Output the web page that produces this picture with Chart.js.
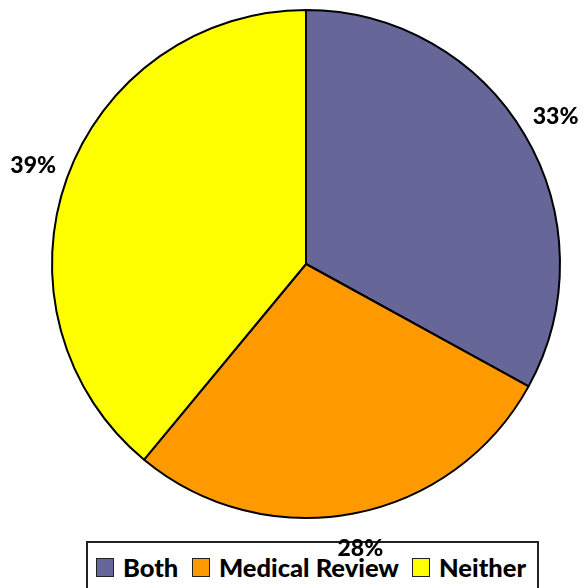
<!DOCTYPE html>
<html>
<head>
<meta charset="utf-8">
<script src="https://cdn.jsdelivr.net/npm/chart.js@4"></script>
<style>
  html, body { margin: 0; padding: 0; background: #ffffff; }
  #wrap { position: relative; width: 585px; height: 588px; overflow: hidden; }
  #legend {
    position: absolute; left: 86px; top: 541px; width: 453px; height: 60px;
    border: 2px solid #222; background: #fff; z-index: 0; box-sizing: border-box;
    font-family: Lato, "Open Sans", sans-serif; font-weight: 900; font-size: 25.5px; color: #000;
  }
  .item { position: absolute; top: 11px; height: 26px; display: flex; align-items: center; white-space: nowrap; }
  .box { width: 16px; height: 17px; border: 1.5px solid #222; margin-right: 9px; flex: none; }
  canvas { position: absolute; left: 0; top: 0; z-index: 1; }
</style>
</head>
<body>
<div id="wrap">
  <div id="legend"></div>
  <canvas id="c" width="585" height="588"></canvas>
</div>
<script>
const categories = ["Both", "Medical Review", "Neither"];
const values = [33, 28, 39];
const colors = ["#666699", "#FF9900", "#FFFF00"];
const legendLefts = [8, 104, 324];

// HTML legend built from the arrays
const leg = document.getElementById('legend');
categories.forEach((c, i) => {
  const it = document.createElement('div');
  it.className = 'item';
  it.style.left = legendLefts[i] + 'px';
  const b = document.createElement('span');
  b.className = 'box';
  b.style.background = colors[i];
  const t = document.createElement('span');
  t.textContent = c;
  it.appendChild(b); it.appendChild(t);
  leg.appendChild(it);
});

const outsideLabels = {
  id: 'outsideLabels',
  afterDatasetsDraw(chart) {
    const ctx = chart.ctx;
    const meta = chart.getDatasetMeta(0);
    const total = values.reduce((a, b) => a + b, 0);
    ctx.save();
    ctx.font = '900 23px Lato, "Open Sans", sans-serif';
    ctx.fillStyle = '#000';
    ctx.textAlign = 'center';
    ctx.textBaseline = 'middle';
    meta.data.forEach((arc, i) => {
      const p = arc.getProps(['x', 'y', 'startAngle', 'endAngle', 'outerRadius'], true);
      const mid = (p.startAngle + p.endAngle) / 2;
      const r = p.outerRadius + 36;
      const x = p.x + Math.cos(mid) * r;
      const y = p.y + Math.sin(mid) * r;
      ctx.fillText(Math.round(values[i] / total * 100) + '%', x, y);
    });
    ctx.restore();
  }
};

new Chart(document.getElementById('c'), {
  type: 'pie',
  data: {
    labels: categories,
    datasets: [{
      data: values,
      backgroundColor: colors,
      borderColor: '#000',
      borderWidth: 2,
      hoverOffset: 0
    }]
  },
  options: {
    responsive: false,
    animation: false,
    events: [],
    layout: { padding: { left: 51, top: 9, right: 24, bottom: 69 } },
    plugins: { legend: { display: false }, tooltip: { enabled: false } }
  },
  plugins: [outsideLabels]
});
</script>
</body>
</html>
